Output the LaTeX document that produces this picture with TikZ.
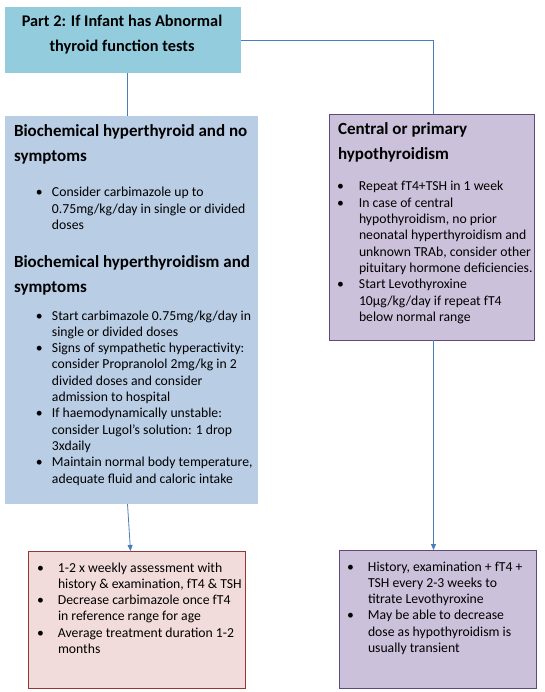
\documentclass[tikz,border=0pt]{standalone}
\usepackage{fontspec}
\setmainfont{Carlito}
\usetikzlibrary{arrows.meta}
\definecolor{titlefill}{HTML}{93CDDD}
\definecolor{leftfill}{HTML}{B9CDE5}
\definecolor{purplefill}{HTML}{CCC1DA}
\definecolor{purpleline}{HTML}{604A7B}
\definecolor{pinkfill}{HTML}{F2DCDB}
\definecolor{redline}{HTML}{953735}
\definecolor{connline}{HTML}{4A7EBB}
\newlength\bulx
\newlength\txtx
\newcommand\bli[1]{\par\noindent\hangindent=\txtx\hangafter=1\hbox to\txtx{\hskip\bulx\textbullet\hss}#1}
\newcommand\bodytext{\fontsize{13.7pt}{16.3pt}\selectfont}
\newcommand\headtext{\fontsize{17pt}{25pt}\selectfont\bfseries}
\newcommand\blist[4]{\begin{minipage}[t]{#1pt}\bodytext\raggedright\setlength\bulx{#2pt}\setlength\txtx{#3pt}\parskip=0pt #4\end{minipage}}
\newcommand\hblock[2]{\begin{minipage}[t]{#1pt}\headtext\raggedright\parskip=0pt #2\end{minipage}}
\tikzset{
  boxbase/.style={rectangle, inner sep=0pt, outer sep=0pt, anchor=north west},
  txt/.style={anchor=base west, inner sep=0pt, outer sep=0pt},
  conn/.style={draw=connline, line width=0.8pt},
  arr/.style={conn, -{Triangle[length=6pt,width=5pt]}},
}
\begin{document}
\begin{tikzpicture}[x=1pt,y=-1pt]
\useasboundingbox (0,0) rectangle (545,692);
\fill[white] (0,0) rectangle (545,692);
% boxes
\node[boxbase, fill=titlefill, minimum width=236pt, minimum height=66pt] (top) at (5,7) {};
\node[boxbase, fill=leftfill, minimum width=253pt, minimum height=388pt] (left) at (5,116) {};
\node[boxbase, fill=purplefill, draw=purpleline, line width=0.9pt, minimum width=205pt, minimum height=226pt] (right) at (329,114) {};
\node[boxbase, fill=pinkfill, draw=redline, line width=0.9pt, minimum width=217pt, minimum height=137pt] (bl) at (28,551) {};
\node[boxbase, fill=purplefill, draw=purpleline, line width=0.9pt, minimum width=197pt, minimum height=138pt] (br) at (339,550) {};
% connectors
\draw[conn] ([xshift=4pt]top.south) -- ([xshift=4pt]top.south |- left.north);
\draw[conn] (top.east) -| ([xshift=2pt]right.north);
\draw[arr] ([xshift=-4pt]left.south) -- ([xshift=-6pt]bl.north);
\draw[arr] ([xshift=2pt]right.south) -- ([xshift=2pt]right.south |- br.north);
% title
\node[txt, anchor=base] (title) at (122,27) {\begin{minipage}[t]{236pt}\centering\fontsize{16.3pt}{25pt}\selectfont\bfseries Part 2: If Infant has Abnormal\\ thyroid function tests\end{minipage}};
% left box text
\node[txt] (h1) at (14,137) {\hblock{245}{Biochemical hyperthyroid and no\newline symptoms}};
\node[txt] (l1) at (5,197) {\blist{250}{31}{47}{\bli{Consider carbimazole up to\newline 0.75mg/kg/day in single or divided\newline doses}}};
\node[txt] (h2) at (14,267) {\hblock{245}{Biochemical hyperthyroidism and\newline symptoms}};
\node[txt] (l2) at (5,320) {\blist{250}{31}{47}{%
\bli{Start carbimazole 0.75mg/kg/day in\newline single or divided doses}
\bli{Signs of sympathetic hyperactivity:\newline consider Propranolol 2mg/kg in 2\newline divided doses and consider\newline admission to hospital}
\bli{If haemodynamically unstable:\newline consider Lugol’s solution: 1 drop\newline 3xdaily}
\bli{Maintain normal body temperature,\newline adequate fluid and caloric intake}}};
% right box text
\node[txt] (h3) at (338,135) {\hblock{195}{Central or primary\newline hypothyroidism}};
\node[txt] (l3) at (329,191) {\blist{205}{8}{30}{%
\bli{Repeat fT4+TSH in 1 week}
\bli{In case of central\newline hypothyroidism, no prior\newline neonatal hyperthyroidism and\newline unknown TRAb, consider other\newline pituitary hormone deficiencies.}
\bli{Start Levothyroxine\newline 10µg/kg/day if repeat fT4\newline below normal range}}};
% bottom left text
\node[txt] (l4) at (28,572) {\blist{217}{9}{30}{%
\bli{1-2 x weekly assessment with\newline history \& examination, fT4 \& TSH}
\bli{Decrease carbimazole once fT4\newline in reference range for age}
\bli{Average treatment duration 1-2\newline months}}};
% bottom right text
\node[txt] (l5) at (339,571) {\blist{197}{8}{29}{%
\bli{History, examination + fT4 +\newline TSH every 2-3 weeks to\newline titrate Levothyroxine}
\bli{May be able to decrease\newline dose as hypothyroidism is\newline usually transient}}};
\end{tikzpicture}
\end{document}
